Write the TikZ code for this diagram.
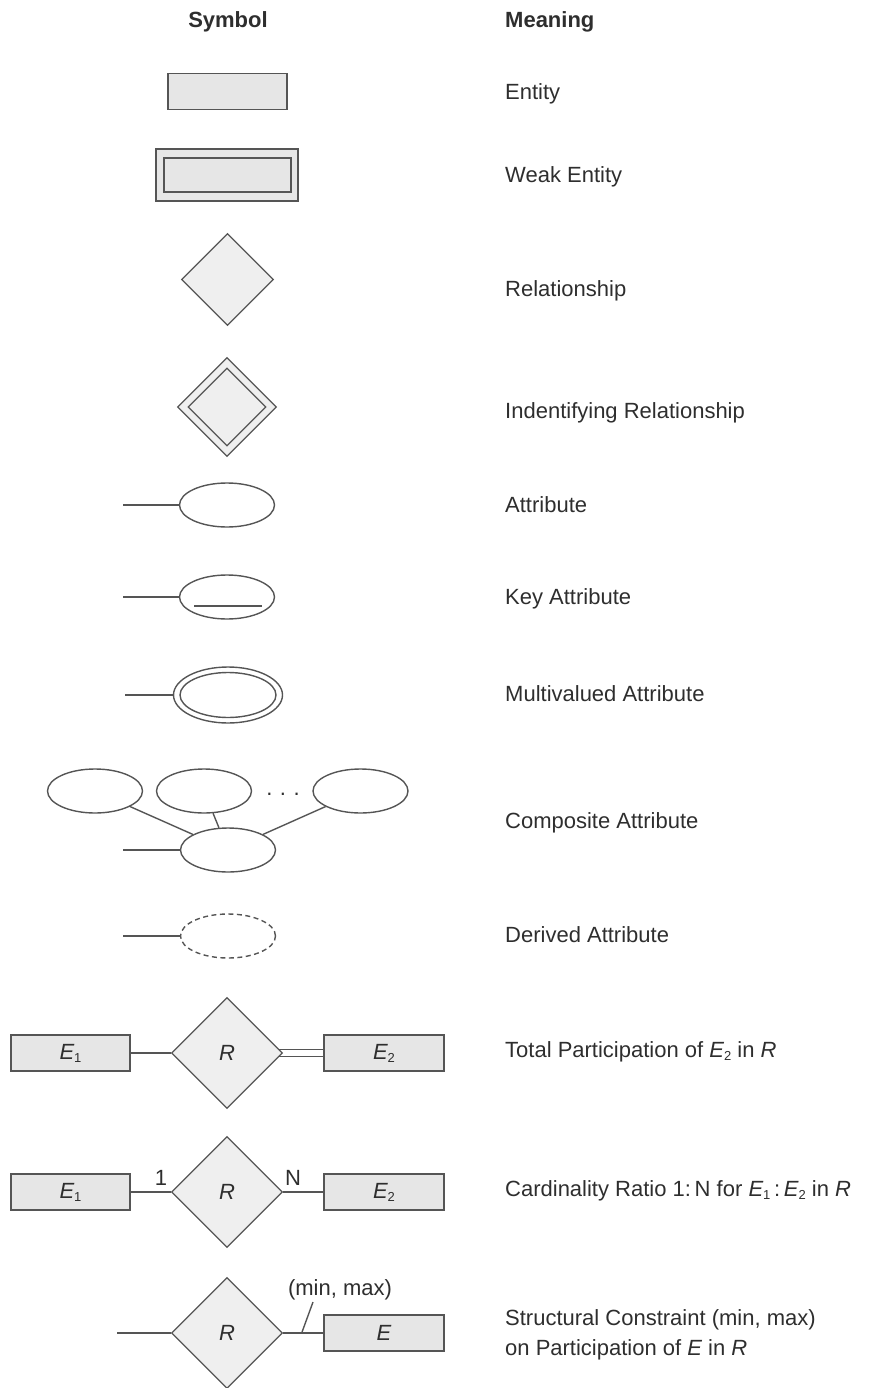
\documentclass[tikz,border=0pt]{standalone}
\usepackage{fontspec}
\setmainfont{Liberation Sans}
\usetikzlibrary{shapes.geometric}
\definecolor{ink}{HTML}{2E2E2E}
\definecolor{edge}{HTML}{555555}
\definecolor{entfill}{HTML}{E6E6E6}
\definecolor{relfill}{HTML}{EFEFEF}
\tikzset{
  ent/.style={draw=edge, fill=entfill, line width=1.6pt, rectangle, inner sep=0pt,
    minimum width=119.5pt, minimum height=36pt},
  rel/.style={draw=edge, fill=relfill, line width=1.3pt, diamond, inner sep=0pt,
    minimum width=#1, minimum height=#1},
  attr/.style={draw=edge, line width=1.4pt, ellipse, inner sep=0pt,
    minimum width=95pt, minimum height=44pt},
  conn/.style={draw=edge, line width=1.4pt},
  meaning/.style={anchor=west, inner sep=0pt, text height=15pt, text depth=0pt},
  lbl/.style={inner sep=0pt, text height=15pt, text depth=0pt},
}
\newcommand{\ital}[1]{{\itshape #1}}
\newcommand{\sbs}[1]{\raisebox{-3pt}{\fontsize{13}{15}\selectfont #1}}
\begin{document}
\begin{tikzpicture}[x=1pt, y=-1pt, font=\fontsize{22}{26}\selectfont, text=ink]
\useasboundingbox (0,0) rectangle (874,1388);

% headers
\node[lbl, font=\fontsize{22}{26}\selectfont\bfseries] (hsym) at (228,20) {Symbol};
\node[meaning, font=\fontsize{22}{26}\selectfont\bfseries] (hmean) at (505,20) {Meaning};

% entity
\node[ent] (ent) at (227.5,91.5) {};
\node[meaning] (tent) at (505,92) {Entity};

% weak entity
\node[ent, minimum width=142.5pt, minimum height=52.5pt] (weakO) at (227,175) {};
\node[ent, minimum width=127.5pt, minimum height=34.5pt] (weakI) at (227.5,175) {};
\node[meaning] (tweak) at (505,175) {Weak Entity};

% relationship
\node[rel=92pt] (rel) at (227.5,279.5) {};
\node[meaning] (trel) at (505,289) {Relationship};

% identifying relationship
\node[rel=99pt] (idO) at (227,407) {};
\node[rel=78pt] (idI) at (227,407) {};
\node[meaning] (tid) at (505,411) {Indentifying Relationship};

% attribute
\node[attr] (att) at (227,505) {};
\coordinate (attL) at (123,505);
\draw[conn] (attL) -- (att);
\node[meaning] (tatt) at (505,505) {Attribute};

% key attribute
\node[attr] (key) at (227,597) {};
\coordinate (keyL) at (123,597);
\draw[conn] (keyL) -- (key);
\coordinate (kuA) at (194,606);
\coordinate (kuB) at (262,606);
\draw[conn] (kuA) -- (kuB);
\node[meaning] (tkey) at (505,597) {Key Attribute};

% multivalued
\node[attr, minimum width=109pt, minimum height=56pt] (mvO) at (228,695) {};
\node[attr, minimum width=96pt, minimum height=45pt] (mvI) at (228,695) {};
\coordinate (mvL) at (125,695);
\draw[conn] (mvL) -- (mvO);
\node[meaning] (tmv) at (505,694) {Multivalued Attribute};

% composite
\node[attr] (c1) at (95,791) {};
\node[attr] (c2) at (204,791) {};
\node[attr] (c3) at (360.5,791) {};
\node[attr] (cc) at (228,850) {};
\node[inner sep=0pt, anchor=base] (dots) at (283,795) {.\hspace{7.5pt}.\hspace{7.5pt}.};
\coordinate (cL) at (123,850);
\draw[conn] (cL) -- (cc);
\draw[conn] (c1) -- (cc);
\draw[conn] (c2) -- (cc);
\draw[conn] (c3) -- (cc);
\node[meaning] (tcomp) at (505,821) {Composite Attribute};

% derived
\node[attr, dash pattern=on 5pt off 3.5pt] (der) at (228,936) {};
\coordinate (derL) at (123,936);
\draw[conn] (derL) -- (der);
\node[meaning] (tder) at (505,935) {Derived Attribute};

% total participation
\node[ent] (tE1) at (70.5,1053) {\ital{E}\sbs{1}};
\node[rel=111pt] (tR) at (227,1053) {\ital{R}};
\node[ent] (tE2) at (384,1053) {\ital{E}\sbs{2}};
\draw[conn] (tE1) -- (tR);
\draw[conn] (tR.4) -- (tR.4 -| tE2.west);
\draw[conn] (tR.-4) -- (tR.-4 -| tE2.west);
\node[meaning] (ttot) at (505,1050) {Total Participation of \ital{E}\sbs{2} in \ital{R}};

% cardinality
\node[ent] (cE1) at (70.5,1192) {\ital{E}\sbs{1}};
\node[rel=111pt] (cR) at (227,1192) {\ital{R}};
\node[ent] (cE2) at (384,1192) {\ital{E}\sbs{2}};
\draw[conn] (cE1) -- (cR);
\draw[conn] (cR) -- (cE2);
\node[lbl] (one) at (161,1178) {1};
\node[lbl] (enn) at (293,1178) {N};
\node[meaning] (tcard) at (505,1189) {Cardinality Ratio 1:\,N for \ital{E}\sbs{1}\,:\,\ital{E}\sbs{2} in \ital{R}};

% structural constraint
\coordinate (sL) at (117,1333);
\node[rel=111pt] (sR) at (227,1333) {\ital{R}};
\node[ent] (sE) at (384,1333) {\ital{E}};
\draw[conn] (sL) -- (sR);
\draw[conn] (sR) -- coordinate[pos=0.46] (tk) (sE);
\coordinate (tkTop) at (313,1302);
\draw[conn] (tk) -- (tkTop);
\node[lbl] (minmax) at (340,1288) {(min, max)};
\node[meaning] (tstr1) at (505,1318) {Structural Constraint (min, max)};
\node[meaning] (tstr2) at (505,1348) {on Participation of \ital{E} in \ital{R}};
\end{tikzpicture}
\end{document}
